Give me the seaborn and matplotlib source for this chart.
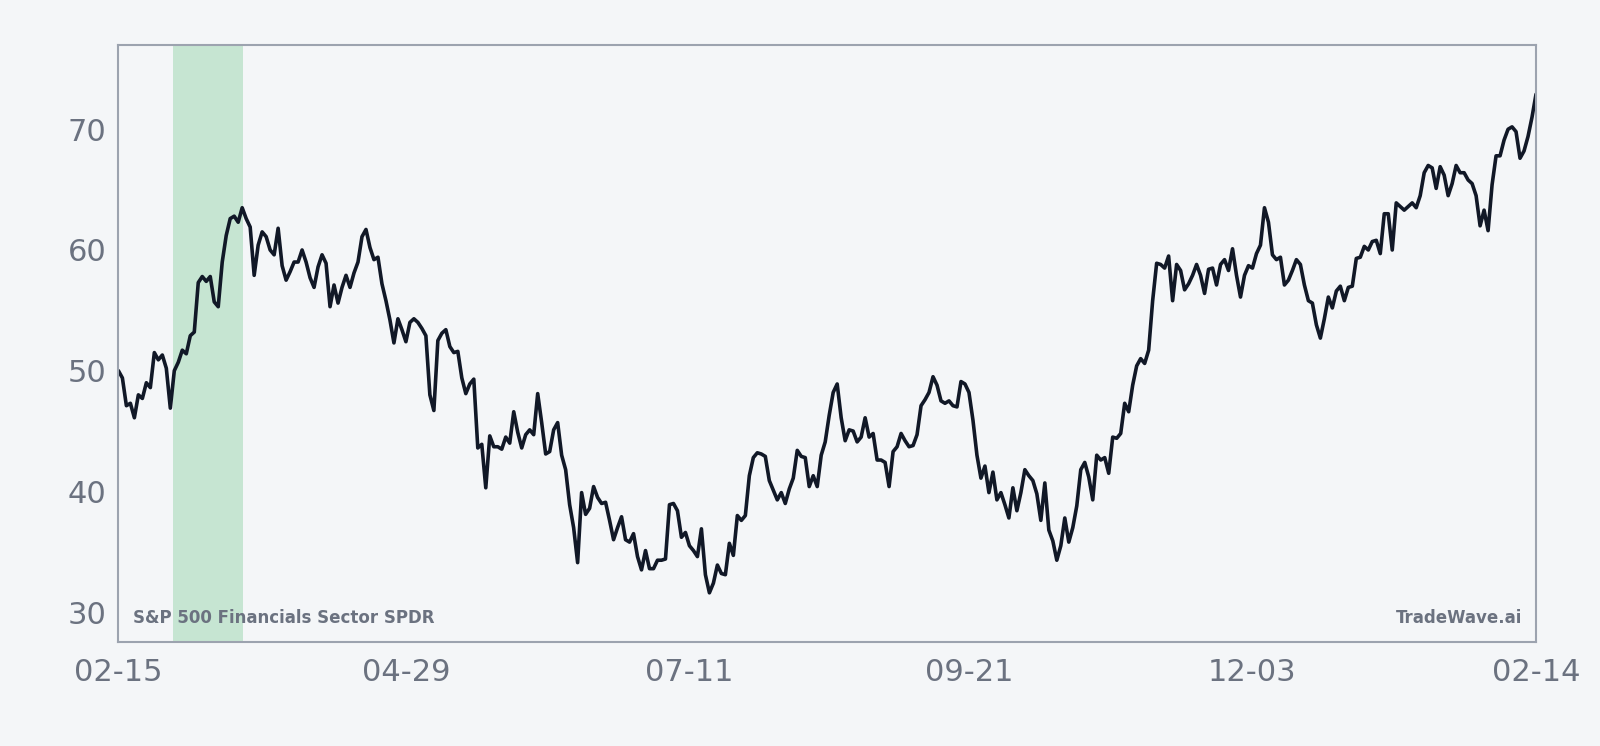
import matplotlib
matplotlib.use("Agg")
import matplotlib.pyplot as plt
import seaborn as sns
import pandas as pd
import numpy as np

values = [
50.0,49.4,47.1,47.3,46.1,48.0,47.7,49.0,48.6,51.5,50.9,51.3,50.2,46.9,50.0,50.7,51.7,51.4,52.9,53.2,
57.3,57.8,57.4,57.8,55.7,55.3,59.0,61.2,62.6,62.8,62.3,63.5,62.6,61.9,57.9,60.4,61.5,61.1,60.0,59.6,
61.8,58.7,57.5,58.2,59.0,59.0,60.0,59.0,57.7,56.9,58.6,59.6,58.9,55.3,57.1,55.6,56.9,57.9,56.9,58.1,
59.0,61.1,61.7,60.2,59.2,59.4,57.2,55.8,54.2,52.3,54.3,53.4,52.4,54.0,54.3,54.0,53.5,52.9,48.0,46.7,
52.5,53.1,53.4,52.0,51.5,51.6,49.4,48.1,48.9,49.3,43.6,43.9,40.3,44.6,43.7,43.7,43.5,44.5,44.0,46.6,
44.9,43.6,44.7,45.1,44.7,48.1,45.7,43.1,43.3,45.1,45.7,43.0,41.8,38.9,37.0,34.1,39.9,38.1,38.6,40.4,
39.5,39.0,39.1,37.6,36.0,37.0,37.9,36.0,35.8,36.5,34.6,33.5,35.1,33.6,33.6,34.3,34.3,34.4,38.9,39.0,
38.4,36.2,36.6,35.5,35.1,34.6,36.9,33.1,31.6,32.4,33.9,33.2,33.1,35.7,34.7,38.0,37.6,38.0,41.3,42.8,
43.2,43.1,42.9,40.9,40.1,39.3,39.9,39.0,40.2,41.1,43.4,42.9,42.8,40.4,41.3,40.4,43.0,44.1,46.3,48.2,
48.9,46.1,44.2,45.1,45.0,44.1,44.5,46.1,44.5,44.8,42.6,42.6,42.4,40.4,43.3,43.7,44.8,44.2,43.7,43.8,
44.7,47.1,47.6,48.2,49.5,48.8,47.5,47.3,47.5,47.1,47.0,49.1,48.9,48.2,45.9,43.0,41.1,42.1,39.9,41.6,
39.3,39.9,38.9,37.8,40.3,38.4,39.9,41.8,41.3,40.9,39.8,37.6,40.7,36.8,35.9,34.3,35.5,37.8,35.8,37.0,
38.8,41.8,42.4,41.2,39.3,43.0,42.6,42.8,41.5,44.5,44.4,44.8,47.3,46.6,48.8,50.4,51.0,50.6,51.7,55.8,
58.9,58.8,58.5,59.5,55.8,58.8,58.3,56.7,57.2,57.9,58.8,57.9,56.4,58.4,58.5,57.1,58.8,59.2,58.3,60.1,
57.9,56.1,57.9,58.7,58.5,59.7,60.4,63.5,62.3,59.6,59.2,59.4,57.1,57.5,58.3,59.2,58.8,57.1,55.8,55.6,
53.8,52.7,54.3,56.1,55.2,56.6,57.0,55.8,56.9,57.0,59.3,59.4,60.3,60.0,60.7,60.8,59.7,63.0,63.0,60.0,
63.9,63.6,63.3,63.6,63.9,63.5,64.5,66.4,67.0,66.8,65.1,66.9,66.2,64.5,65.5,67.0,66.4,66.4,65.8,65.5,
64.5,62.0,63.3,61.6,65.4,67.8,67.8,69.1,70.0,70.2,69.8,67.6,68.2,69.4,71.0,72.9,
]
start_date = "2024-02-15"
end_date = "2025-02-14"
tick_labels = ["02-15", "04-29", "07-11", "09-21", "12-03", "02-14"]
tick_dates = ["2024-02-15", "2024-04-29", "2024-07-11", "2024-09-21", "2024-12-03", "2025-02-14"]
shade_start, shade_end = "2024-02-29", "2024-03-18"
title_left = "S&P 500 Financials Sector SPDR"
title_right = "TradeWave.ai"

dates = pd.date_range(start_date, end_date, periods=len(values))
df = pd.DataFrame({"date": dates, "price": values})

bg = "#f4f6f8"
sns.set_theme(style="white")
plt.rcParams["font.family"] = ["DejaVu Sans"]
fig, ax = plt.subplots(figsize=(16, 7.46), dpi=100)
fig.patch.set_facecolor(bg)
ax.set_facecolor(bg)
fig.subplots_adjust(left=0.074, right=0.96, top=0.94, bottom=0.139)

ax.axvspan(pd.Timestamp(shade_start), pd.Timestamp(shade_end), color="#c6e5d2", zorder=0, lw=0)
sns.lineplot(data=df, x="date", y="price", ax=ax, color="#111827", linewidth=2.6)

ax.set_xlim(dates[0], dates[-1])
ax.set_ylim(27.5, 77.0)
ax.set_xticks(pd.to_datetime(tick_dates))
ax.set_xticklabels(tick_labels)
ax.set_yticks([30, 40, 50, 60, 70])
ax.tick_params(axis="both", labelsize=22, colors="#6b7280", length=5, width=1, color="#6b7280")
ax.tick_params(axis="x", pad=6)
ax.set_xlabel("")
ax.set_ylabel("")
for s in ax.spines.values():
    s.set_color("#9ca3af")
    s.set_linewidth(1.5)

ax.text(0.01, 0.025, title_left, transform=ax.transAxes, fontsize=12, fontweight="bold",
        color="#6b7280", ha="left", va="bottom")
ax.text(0.99, 0.025, title_right, transform=ax.transAxes, fontsize=12, fontweight="bold",
        color="#6b7280", ha="right", va="bottom")

fig.savefig("out.png", dpi=100, facecolor=bg)
